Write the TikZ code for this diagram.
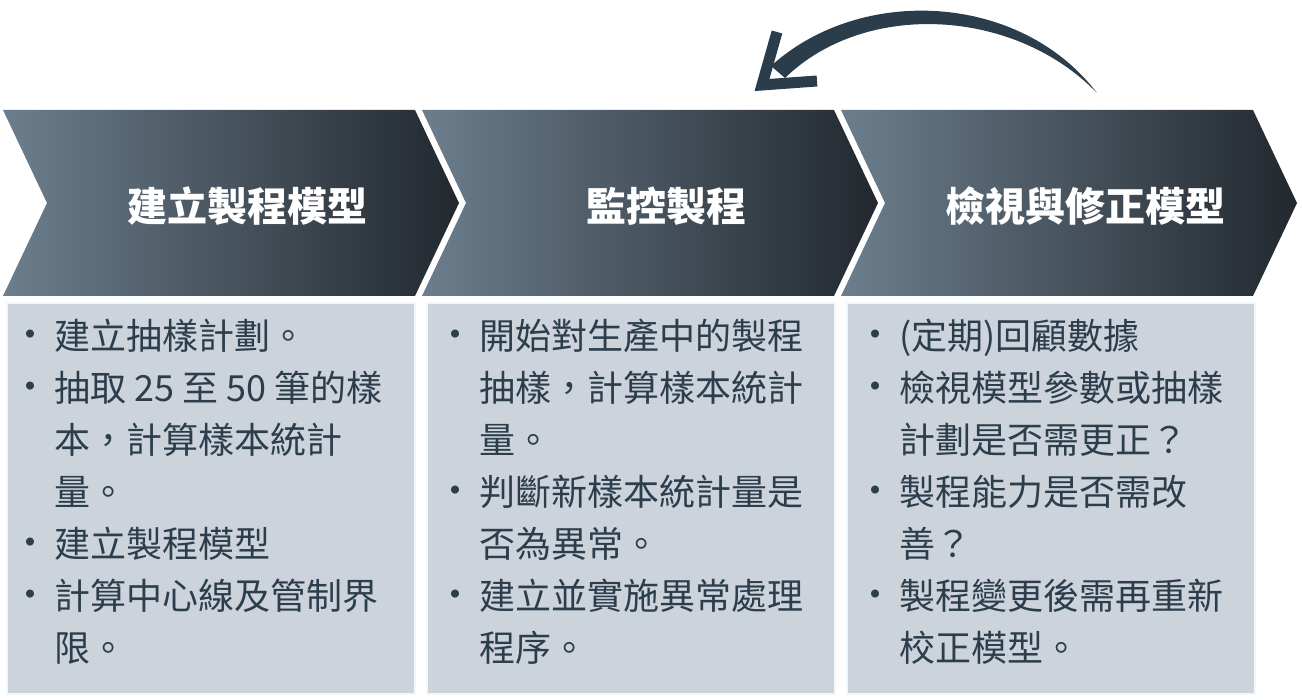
\documentclass[tikz,border=0pt]{standalone}
\usepackage{fontspec}
\setmainfont{Noto Sans CJK TC}
\usetikzlibrary{positioning}
\definecolor{chevlight}{HTML}{6C7E8D}
\definecolor{chevdark}{HTML}{22282E}
\definecolor{boxfill}{HTML}{CDD3DA}
\definecolor{boxedge}{HTML}{EFF9FB}
\definecolor{inktext}{HTML}{2C3E4C}
\definecolor{brush}{HTML}{2B3D4B}
\newcommand{\bul}{\makebox[29pt][l]{\hspace{-14pt}\fontsize{38}{38}\selectfont\raisebox{1pt}{•}}}
\newcommand{\cont}{\hspace*{29pt}}

\begin{document}
\begin{tikzpicture}[x=1pt, y=-1pt,
  chev/.style={shade, left color=chevlight, right color=chevdark, draw=none},
  head/.style={text=white, font=\fontsize{40}{46}\selectfont\bfseries, inner sep=0pt},
  box/.style={fill=boxfill, draw=boxedge, line width=2pt, minimum width=408pt, minimum height=391pt, anchor=north west, inner sep=0pt},
  list/.style={text=inktext, font=\fontsize{36}{52}\selectfont, align=left, inner sep=0pt},
  brushline/.style={brush, line width=11pt}
]
\useasboundingbox (0,0) rectangle (1302,700);

% process steps
\foreach \i/\t in {0/建立製程模型, 1/監控製程, 2/檢視與修正模型} {
  \pgfmathsetmacro{\xo}{3+419*\i}
  \path[chev] (\xo,110) -- ++(412,0) -- ++(44,93) -- ++(-44,93) -- ++(-412,0) -- ++(44,-93) -- cycle;
  \node[head] (h\i) at (\xo+244,206) {\t};
  \node[box] (b\i) at (6+420*\i,302) {};
}

% details
\node[list, below right=17pt and 19pt of b0.north west] (l0) {%
\bul 建立抽樣計劃。\\
\bul 抽取 25 至 50 筆的樣\\
\cont 本，計算樣本統計\\
\cont 量。\\
\bul 建立製程模型\\
\bul 計算中心線及管制界\\
\cont 限。};
\node[list, below right=17pt and 24pt of b1.north west] (l1) {%
\bul 開始對生產中的製程\\
\cont 抽樣，計算樣本統計\\
\cont 量。\\
\bul 判斷新樣本統計量是\\
\cont 否為異常。\\
\bul 建立並實施異常處理\\
\cont 程序。};
\node[list, below right=17pt and 24pt of b2.north west] (l2) {%
\bul (定期)回顧數據\\
\bul 檢視模型參數或抽樣\\
\cont 計劃是否需更正？\\
\bul 製程能力是否需改\\
\cont 善？\\
\bul 製程變更後需再重新\\
\cont 校正模型。};

% feedback arrow
\coordinate (tail) at (1097,93);
\coordinate (tip) at (762,85);
\fill[brush] (tail) .. controls (1020,-8) and (860,-15) .. (771,66)
  -- (785,78) .. controls (865,0) and (1015,8) .. (tail) -- cycle;
\draw[brushline, line join=miter] (777,32) -- (tip) -- (817,81);
\end{tikzpicture}
\end{document}
